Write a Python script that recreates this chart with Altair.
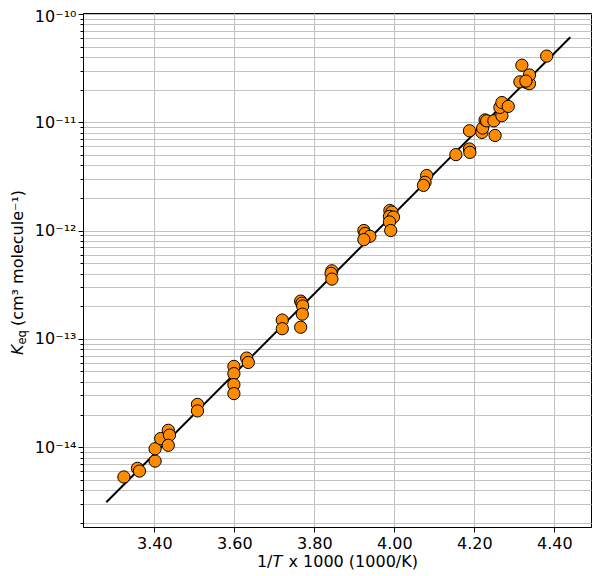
import altair as alt
import pandas as pd

# ---- data ----
inv_T = [3.324, 3.358, 3.363, 3.402, 3.402, 3.416, 3.435, 3.438, 3.435, 3.508,
         3.508, 3.599, 3.599, 3.599, 3.599, 3.631, 3.635, 3.720, 3.720, 3.766,
         3.769, 3.771, 3.770, 3.766, 3.844, 3.842, 3.844, 3.924, 3.927, 3.939,
         3.924, 3.989, 3.994, 3.988, 3.998, 3.988, 3.991, 4.081, 4.077, 4.073,
         4.154, 4.188, 4.189, 4.188, 4.219, 4.221, 4.227, 4.231, 4.249, 4.252,
         4.269, 4.264, 4.269, 4.285, 4.319, 4.314, 4.331, 4.338, 4.338, 4.329,
         4.381]
k_eq = [5.30e-15, 6.37e-15, 6.01e-15, 7.43e-15, 9.66e-15, 1.20e-14, 1.43e-14, 1.29e-14, 1.04e-14, 2.48e-14,
        2.16e-14, 5.56e-14, 4.77e-14, 3.78e-14, 3.12e-14, 6.64e-14, 6.05e-14, 1.49e-13, 1.24e-13, 2.23e-13,
        2.13e-13, 2.01e-13, 1.69e-13, 1.28e-13, 4.25e-13, 4.02e-13, 3.56e-13, 1.00e-12, 9.38e-13, 8.85e-13,
        8.24e-13, 1.53e-12, 1.48e-12, 1.35e-12, 1.33e-12, 1.20e-12, 1.00e-12, 3.22e-12, 2.79e-12, 2.61e-12,
        5.02e-12, 5.66e-12, 5.27e-12, 8.34e-12, 8.05e-12, 8.84e-12, 1.05e-11, 1.03e-11, 1.03e-11, 7.55e-12,
        1.15e-11, 1.37e-11, 1.52e-11, 1.40e-11, 3.36e-11, 2.36e-11, 2.32e-11, 2.27e-11, 2.73e-11, 2.40e-11,
        4.08e-11]

fit_x = [3.28, 4.44]
fit_k = [3.1e-15, 6.1e-11]

x_ticks = [3.40, 3.60, 3.80, 4.00, 4.20, 4.40]
y_decades = [1e-14, 1e-13, 1e-12, 1e-11, 1e-10]
y_decade_labels = ["10⁻¹⁴", "10⁻¹³", "10⁻¹²", "10⁻¹¹", "10⁻¹⁰"]
y_exponents = [-15, -14, -13, -12, -11]
y_mantissas = [1, 2, 3, 4, 5, 6, 7, 8, 9]

X_DOMAIN = [3.2218, 4.4918]
Y_DOMAIN = [1.83e-15, 1.02e-10]

y_all = [float(f"{m}e{e}") for e in y_exponents for m in y_mantissas]
y_all = [v for v in y_all if Y_DOMAIN[0] <= v <= Y_DOMAIN[1]] + [1e-10]

label_expr = ""
for v, lab in zip(y_decades, y_decade_labels):
    label_expr += f"datum.value == {repr(v)} ? '{lab}' : "
label_expr += "''"
major_test = "indexof([" + ",".join(repr(v) for v in y_decades) + "], datum.value) >= 0"
top_test = f"datum.value == {repr(y_decades[-1])}"

FONT = "DejaVu Sans"
GRID = "#c2c2c2"

pts = pd.DataFrame({"x": inv_T, "k": k_eq})
fit = pd.DataFrame({"x": fit_x, "k": fit_k})

xscale = alt.Scale(domain=X_DOMAIN, nice=False, zero=False)
yscale = alt.Scale(type="log", domain=Y_DOMAIN, nice=False)

xaxis = alt.Axis(values=x_ticks, format=".2f", title=None, grid=True,
                 gridColor=GRID, gridWidth=1, tickSize=5, tickColor="black",
                 domainColor="black", labelFontSize=16, labelFont=FONT,
                 labelColor="black", labelPadding=3, labelFlush=False,
                 labelOverlap=False)
yaxis = alt.Axis(values=y_all, labelExpr=label_expr, title=None, grid=True,
                 gridColor=GRID, gridWidth=1,
                 tickSize={"condition": {"test": major_test, "value": 5}, "value": 3},
                 labelOffset={"condition": {"test": top_test, "value": 3}, "value": 0},
                 tickColor="black", domainColor="black", labelFontSize=16,
                 labelFont=FONT, labelColor="black", labelPadding=2,
                 labelFlush=False, labelOverlap=False, labelBound=False)

line = alt.Chart(fit).mark_line(color="black", strokeWidth=2).encode(
    x=alt.X("x:Q", scale=xscale, axis=xaxis),
    y=alt.Y("k:Q", scale=yscale, axis=yaxis),
)

points = alt.Chart(pts).mark_circle(
    size=150, fill="#ff8c00", stroke="black", strokeWidth=1, opacity=1
).encode(
    x=alt.X("x:Q", scale=xscale),
    y=alt.Y("k:Q", scale=yscale),
)

one = pd.DataFrame({"a": [0]})

def txt(text, x, y, size=16, style="normal", align="left", angle=0):
    return alt.Chart(one).mark_text(
        text=text, font=FONT, fontSize=size, fontStyle=style, align=align,
        baseline="alphabetic", angle=angle, color="black"
    ).encode(x=alt.value(x), y=alt.value(y))

# x title: 1/T x 1000 (1000/K)
xt1 = txt("1/", 189.5, 553.7, align="right")
xt2 = txt("T", 189.5, 553.7, style="italic")
xt3 = txt("x 1000 (1000/K)", 205.5, 553.7)

# y title: K_eq (cm³ molecule⁻¹)
yt1 = txt("K", -60.5, 342, style="italic", angle=270)
yt2 = txt("eq", -57.5, 331.5, size=11.5, angle=270)
yt3 = txt("(cm³ molecule⁻¹)", -60.5, 313, angle=270)

chart = alt.layer(line, points, xt1, xt2, xt3, yt1, yt2, yt3).properties(
    width=508, height=514,
    autosize=alt.AutoSizeParams(type="none"),
    padding={"left": 75, "top": 5, "right": 1, "bottom": 44},
).configure_view(stroke="black", strokeWidth=1)

chart.save("out.html", embed_options={"renderer": "svg", "actions": False})
